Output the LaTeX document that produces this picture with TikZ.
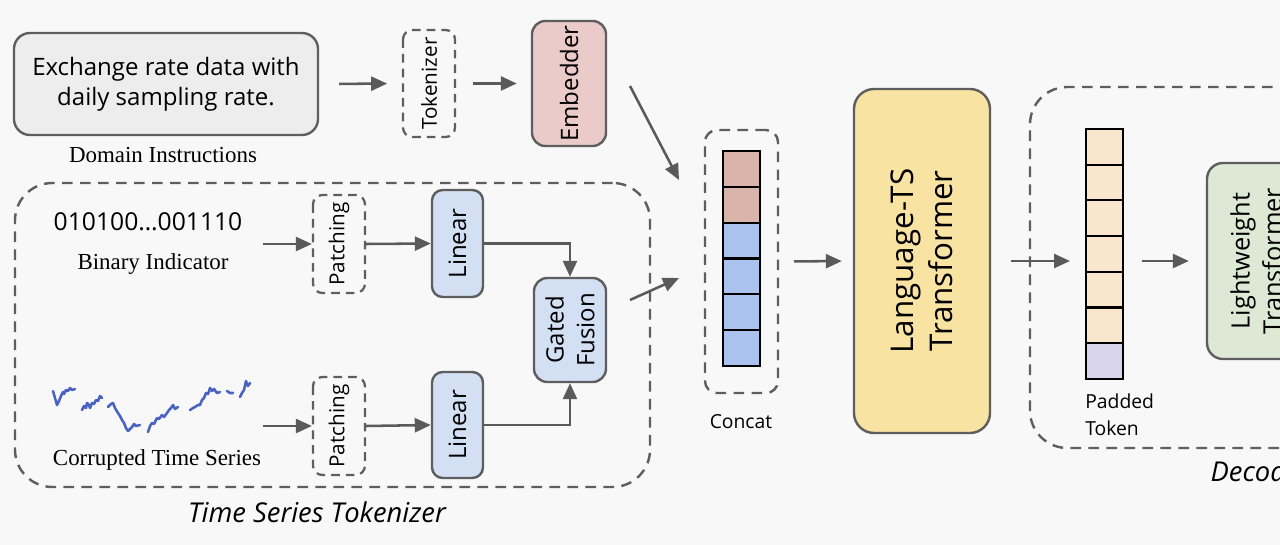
\documentclass[tikz,border=0pt]{standalone}
\usepackage{fontspec}
\setmainfont{Liberation Serif}
\setsansfont{Open Sans}
\usetikzlibrary{arrows.meta}
\definecolor{bg}{HTML}{F8F8F8}
\definecolor{bordergray}{HTML}{5E5E5E}
\definecolor{arrgray}{HTML}{5A5A5A}
\definecolor{domfill}{HTML}{EDEDED}
\definecolor{embfill}{HTML}{EBCACA}
\definecolor{linfill}{HTML}{D3DFF2}
\definecolor{ltsfill}{HTML}{F8E3A3}
\definecolor{lwfill}{HTML}{DDE8D5}
\definecolor{cpink}{HTML}{D9B4AB}
\definecolor{cblue}{HTML}{A9C2EE}
\definecolor{cpeach}{HTML}{FAE5CD}
\definecolor{clav}{HTML}{D9D5EC}
\definecolor{tsblue}{HTML}{4A63C2}
\begin{document}
\begin{tikzpicture}[x=0.75pt,y=-0.75pt,
  box/.style={draw=bordergray, line width=1.8pt, rounded corners=8pt, inner sep=0pt, font=\sffamily, text=black},
  vbox/.style={box, rotate=90},
  dbox/.style={draw=bordergray, line width=1.7pt, dash pattern=on 6.5pt off 4.5pt, rounded corners=7pt, inner sep=0pt, rotate=90, font=\sffamily\fontsize{15.5}{18}\selectfont, text=black},
  group/.style={draw=bordergray, line width=1.8pt, dash pattern=on 8pt off 5.5pt, rounded corners=28pt, inner sep=0pt},
  cell/.style={draw=black, line width=1.6pt, minimum width=27.75pt, minimum height=26.85pt, inner sep=0pt, outer sep=0pt},
  arr/.style={draw=arrgray, line width=1.9pt, -{Triangle[length=12pt,width=10.5pt]}},
  serif/.style={font=\fontsize{17.2}{20}\selectfont, text=black},
  sans/.style={font=\sffamily\fontsize{14.5}{20}\selectfont, text=black},
  ital/.style={font=\sffamily\itshape\fontsize{20.5}{22}\selectfont, text=black},
  tsline/.style={draw=tsblue, line width=1.9pt, line join=round, line cap=round}
]
\useasboundingbox (0,0) rectangle (1280,545);
\clip (0,0) rectangle (1280,545);
\fill[bg] (0,0) rectangle (1280,545);

% group boxes
\node[group, minimum width=476.25pt, minimum height=228pt] (tst) at (332.5,335) {};
\node[group, minimum width=277.5pt, minimum height=270.75pt] (dec) at (1215,267.5) {};
\node[ital, anchor=center] (tstl) at (317,512) {Time Series Tokenizer};
\node[ital, anchor=west] (decl) at (1206,471) {Decoder};

% domain instructions
\node[box, fill=domfill, rounded corners=12pt, minimum width=228pt, minimum height=76.5pt, align=center,
  font=\sffamily\fontsize{18}{22.5}\selectfont] (dom) at (166,84) {Exchange rate data with\\daily sampling rate.};
\node[serif] (doml) at (163,155) {Domain Instructions};
\node[dbox, minimum width=80.25pt, minimum height=39pt] (tok) at (429,83.5) {Tokenizer};
\node[vbox, fill=embfill, rounded corners=10pt, minimum width=93.75pt, minimum height=55.5pt,
  font=\sffamily\fontsize{18}{20}\selectfont] (emb) at (569,83.5) {Embedder};

% time series tokenizer
\node[font=\sffamily\fontsize{18.5}{22}\selectfont, text=black] (bin) at (148,222) {010100…001110};
\node[serif] (binl) at (153,264) {Binary Indicator};
\node[serif] (tsl) at (157,460) {Corrupted Time Series};
\node[dbox, minimum width=73.5pt, minimum height=39pt] (pat1) at (339,244) {Patching};
\node[dbox, minimum width=73.5pt, minimum height=39pt] (pat2) at (339,426) {Patching};
\node[vbox, fill=linfill, minimum width=80.25pt, minimum height=38.25pt,
  font=\sffamily\fontsize{18}{20}\selectfont] (lin1) at (457.5,243.5) {Linear};
\node[vbox, fill=linfill, minimum width=79.5pt, minimum height=38.25pt,
  font=\sffamily\fontsize{18}{20}\selectfont] (lin2) at (457.5,425) {Linear};
\node[vbox, fill=linfill, rounded corners=10pt, minimum width=78pt, minimum height=54pt, align=center,
  font=\sffamily\fontsize{18}{23}\selectfont] (gf) at (570,330) {Gated\\Fusion};

% corrupted time series curve
\draw[tsline] plot coordinates {(53,391) (55,398) (57,405) (59,401) (61,396) (63,392) (64,394) (66,390) (68,391) (70,388) (72,390) (75,389)};
\draw[tsline] plot coordinates {(82,410) (84,406) (86,408) (87,403) (89,405) (90,408) (92,403) (94,404) (96,400) (98,401) (100,396) (102,398)};
\draw[tsline] plot coordinates {(108,407) (111,404) (113,403) (115,408) (118,413) (120,416) (122,420) (124,423) (126,428) (128,431) (130,429) (132,427) (134,424) (136,426) (140,425)};
\draw[tsline] plot coordinates {(148,432) (150,426) (152,423) (154,424) (157,418) (159,419) (162,415) (164,417) (167,413) (169,410) (171,408) (173,405) (175,409) (178,407)};
\draw[tsline] plot coordinates {(190,410) (193,408) (195,407) (198,405) (200,405) (202,400) (204,398) (206,393) (208,394) (210,388) (212,391) (214,389) (217,393) (220,392)};
\draw[tsline] plot coordinates {(227,391) (230,393) (233,393)};
\draw[tsline] plot coordinates {(240,397) (242,393) (244,390) (246,381) (247,384) (248,386) (250,383)};

% concat
\node[group, rounded corners=9pt, minimum width=54.75pt, minimum height=197.25pt] (cc) at (741.5,261.5) {};
\foreach \i/\c in {1/cpink,2/cpink,3/cblue,4/cblue,5/cblue,6/cblue}
  \node[cell, fill=\c] (c\i) at (741.5,{151+35.83*(\i-0.5)}) {};
\node[sans] (ccl) at (741,422) {Concat};

% language-TS transformer
\node[vbox, fill=ltsfill, rounded corners=15pt, minimum width=258pt, minimum height=102pt, align=center,
  font=\sffamily\fontsize{23.5}{29}\selectfont] (lts) at (922,261) {Language-TS\\Transformer};

% decoder
\foreach \i/\c in {1/cpeach,2/cpeach,3/cpeach,4/cpeach,5/cpeach,6/cpeach,7/clav}
  \node[cell, fill=\c] (p\i) at (1104.5,{129+35.71*(\i-0.5)}) {};
\node[sans, anchor=west, align=left, inner sep=0pt] (padl) at (1085,415) {Padded\\Token};
\node[vbox, fill=lwfill, rounded corners=12pt, minimum width=147pt, minimum height=73.5pt, align=center,
  font=\sffamily\fontsize{19}{24}\selectfont] (lw) at (1256,261) {Lightweight\\Transformer};

% connectors
\draw[arr, shorten <=15pt, shorten >=11pt] (dom.east) -- (tok.north);
\draw[arr, shorten <=12.75pt, shorten >=10.5pt] (tok.south) -- (emb.north);
\coordinate (embout) at (630,86);
\coordinate (ccin1) at (679,180);
\draw[arr] (embout) -- (ccin1);
\coordinate (gfout) at (630,300);
\coordinate (ccin2) at (679,278);
\draw[arr] (gfout) -- (ccin2);
\coordinate (binout) at (263,244);
\coordinate (tsout) at (263,426);
\draw[arr] (binout) -- (pat1.north);
\draw[arr] (tsout) -- (pat2.north);
\draw[arr] (pat1.south) -- (lin1.north);
\draw[arr] (pat2.south) -- (lin2.north);
\draw[arr] (lin1.south) -| (gf.east);
\draw[arr] (lin2.south) -| (gf.west);
\draw[arr, shorten <=11.25pt, shorten >=8.25pt] (cc.east) -- (lts.north);
\draw[arr, shorten <=15pt, shorten >=12pt] (lts.south) -- (lts.south -| p1.west);
\draw[arr, shorten <=14pt, shorten >=12.75pt] (lts.south -| p1.east) -- (lw.north);
\end{tikzpicture}
\end{document}
